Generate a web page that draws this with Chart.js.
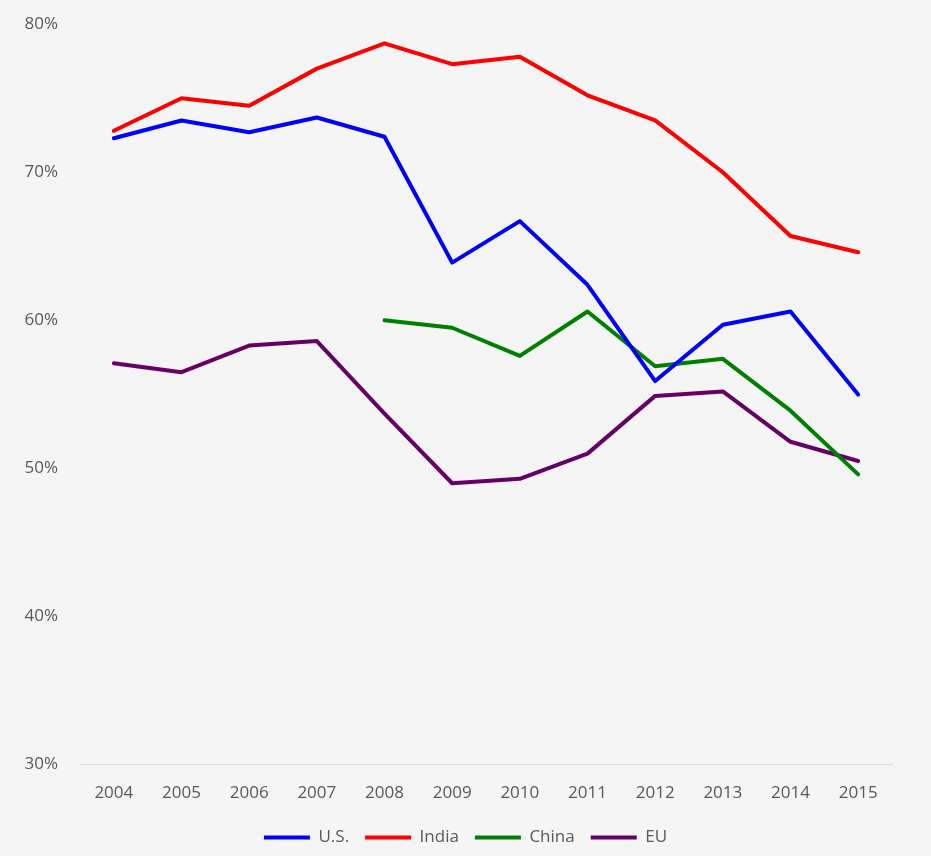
<!DOCTYPE html>
<html>
<head>
<meta charset="utf-8">
<script src="https://cdn.jsdelivr.net/npm/chart.js@4"></script>
<style>
  html, body { margin: 0; padding: 0; background: #f5f5f5; }
  #wrap { width: 931px; height: 856px; }
</style>
</head>
<body>
<div id="wrap"><canvas id="chart"></canvas></div>
<script>
const years = ['2004', '2005', '2006', '2007', '2008', '2009', '2010', '2011', '2012', '2013', '2014', '2015'];
const usValues = [72.3, 73.5, 72.7, 73.7, 72.4, 63.9, 66.7, 62.4, 55.9, 59.7, 60.6, 55.0];
const indiaValues = [72.8, 75.0, 74.5, 77.0, 78.7, 77.3, 77.8, 75.2, 73.5, 70.0, 65.7, 64.6];
const chinaValues = [null, null, null, null, 60.0, 59.5, 57.6, 60.6, 56.9, 57.4, 53.9, 49.6];
const euValues = [57.1, 56.5, 58.3, 58.6, 53.7, 49.0, 49.3, 51.0, 54.9, 55.2, 51.8, 50.5];
const yTicks = [30, 40, 50, 60, 70, 80];

const textColor = '#595959';
const font = { family: '"Open Sans", sans-serif', size: 17 };

function series(label, data, color) {
    return {
        label: label,
        data: data,
        borderColor: color,
        backgroundColor: color,
        borderWidth: 4,
        borderCapStyle: 'round',
        borderJoinStyle: 'round',
        pointRadius: 0,
        pointHoverRadius: 0,
        pointStyle: 'line',
        tension: 0,
        fill: false
    };
}

new Chart(document.getElementById('chart'), {
    type: 'line',
    data: {
        labels: years,
        datasets: [
            series('U.S.', usValues, '#0000ff'),
            series('India', indiaValues, '#ff0000'),
            series('China', chinaValues, '#008000'),
            series('EU', euValues, '#660066')
        ]
    },
    options: {
        responsive: true,
        maintainAspectRatio: false,
        animation: false,
        layout: { padding: { top: 6, right: 0, left: 0, bottom: 0 } },
        scales: {
            x: {
                offset: true,
                grid: { display: false },
                border: { display: true, color: '#d9d9d9', width: 1 },
                ticks: { color: textColor, font: font, padding: 10, maxRotation: 0 }
            },
            y: {
                min: 30,
                max: 80,
                afterFit: (scale) => { scale.width = 80; },
                afterBuildTicks: (scale) => { scale.ticks = yTicks.map(v => ({ value: v })); },
                grid: { display: false },
                border: { display: false },
                ticks: {
                    color: textColor,
                    font: font,
                    padding: 14,
                    callback: (v) => v + '%'
                }
            },
            // empty right-hand margin so the legend stays centred on the page
            yRight: {
                position: 'right',
                min: 30,
                max: 80,
                afterFit: (scale) => { scale.width = 39; },
                grid: { display: false },
                border: { display: false },
                ticks: { display: false }
            }
        },
        plugins: {
            legend: {
                position: 'bottom',
                labels: {
                    color: textColor,
                    font: font,
                    usePointStyle: true,
                    pointStyleWidth: 46,
                    padding: 16
                }
            },
            tooltip: { enabled: false }
        }
    }
});
</script>
</body>
</html>
